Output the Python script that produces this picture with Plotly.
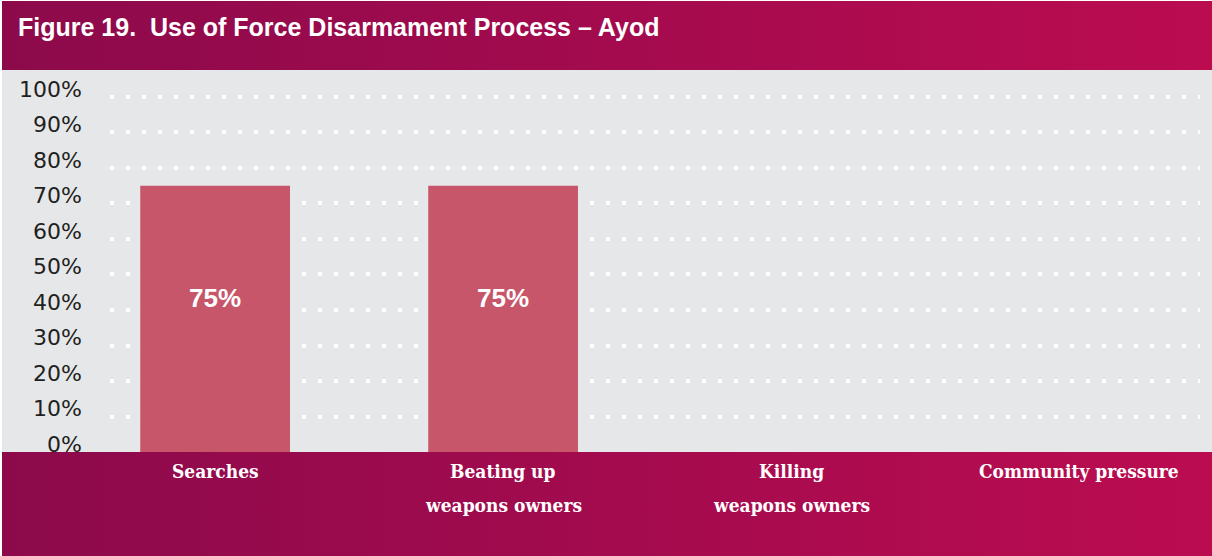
import base64
import plotly.graph_objects as go

# ---- data ----
categories = ["Searches", "Beating up weapons owners", "Killing weapons owners", "Community pressure"]
values = [75, 75, 0, 0]
label_lines = [["Searches"], ["Beating up", "weapons owners"], ["Killing", "weapons owners"], ["Community pressure"]]
y_ticks = list(range(0, 101, 10))
y_tick_labels = [f"{v}%" for v in y_ticks]
title_text = "Figure 19.  Use of Force Disarmament Process – Ayod"

# ---- layout geometry ----
W, H = 1212, 556
L, R, T, B = 110, 12, 95, 104
plot_w = W - L - R
plot_h = H - T - B


def px_x(px):
    return (px - L) / plot_w


def px_y(py):
    return (H - B - py) / plot_h


def grad_src(c1, c2, c3):
    svg = ('<svg xmlns="http://www.w3.org/2000/svg" width="100" height="10" viewBox="0 0 100 10" '
           'preserveAspectRatio="none"><defs><linearGradient id="g" x1="0" y1="0" x2="1" y2="0">'
           f'<stop offset="0" stop-color="{c1}"/><stop offset="0.5" stop-color="{c2}"/>'
           f'<stop offset="1" stop-color="{c3}"/></linearGradient></defs>'
           '<rect width="100" height="10" fill="url(#g)"/></svg>')
    return "data:image/svg+xml;base64," + base64.b64encode(svg.encode()).decode()


band = grad_src("#8c0a4b", "#a30b4e", "#bb0c50")
GRAY = "#e6e7e9"
EDGE_X, EDGE_Y = 2, 1

fig = go.Figure()
fig.add_trace(go.Bar(
    x=categories, y=values, width=0.52,
    marker=dict(color="#c7566b", line=dict(width=0)),
    hoverinfo="skip", showlegend=False,
))

annotations = []
# value labels inside bars
for c, v in zip(categories, values):
    if v > 0:
        annotations.append(dict(
            x=c, y=v * 0.58, xref="x", yref="y", text=f"<b>{v}%</b>", showarrow=False,
            font=dict(family="Liberation Sans, Arial, sans-serif", size=26, color="white"),
            xanchor="center", yanchor="middle",
        ))
# category labels in bottom band
for c, lines in zip(categories, label_lines):
    for i, line in enumerate(lines):
        annotations.append(dict(
            x=c, y=px_y(471 + 34 * i), xref="x", yref="paper", text=f"<b>{line}</b>", showarrow=False,
            font=dict(family="DejaVu Serif Condensed, Liberation Sans Narrow, serif", size=19, color="white"),
            xanchor="center", yanchor="middle",
        ))

fig.update_layout(
    width=W, height=H,
    margin=dict(l=L, r=R, t=T, b=B, pad=0),
    paper_bgcolor="white",
    plot_bgcolor=GRAY,
    bargap=0.48,
    title=dict(
        text=f"<b>{title_text}</b>", x=18 / W, y=1 - 27 / H, xref="container", yref="container",
        xanchor="left", yanchor="middle",
        font=dict(family="Liberation Sans, Arial, sans-serif", size=25, color="white"),
    ),
    xaxis=dict(
        type="category", categoryorder="array", categoryarray=categories,
        range=[-0.365, 3.42], showticklabels=False, showgrid=False, zeroline=False,
        showline=False, ticks="", fixedrange=True,
    ),
    yaxis=dict(
        range=[0, 100.56], tickvals=y_ticks, ticktext=y_tick_labels,
        showgrid=True, gridcolor="white", gridwidth=4, griddash="4px,12px",
        zeroline=False, showline=False, ticks="", ticklabelstandoff=27, ticklabelshift=-8,
        tickfont=dict(family="DejaVu Sans, sans-serif", size=22, color="#231f20"),
        fixedrange=True,
    ),
    shapes=[
        dict(type="rect", xref="paper", yref="paper", x0=px_x(EDGE_X), x1=px_x(W),
             y0=px_y(452), y1=px_y(70), fillcolor=GRAY, line=dict(width=0), layer="below"),
    ],
    images=[
        dict(source=band, xref="paper", yref="paper", x=px_x(EDGE_X), y=px_y(EDGE_Y),
             sizex=(W - EDGE_X) / plot_w, sizey=(70 - EDGE_Y) / plot_h, xanchor="left", yanchor="top",
             sizing="stretch", layer="below"),
        dict(source=band, xref="paper", yref="paper", x=px_x(EDGE_X), y=px_y(452),
             sizex=(W - EDGE_X) / plot_w, sizey=(H - 452) / plot_h, xanchor="left", yanchor="top",
             sizing="stretch", layer="below"),
    ],
    annotations=annotations,
)

fig.write_html("out.html", config={"displayModeBar": False})
